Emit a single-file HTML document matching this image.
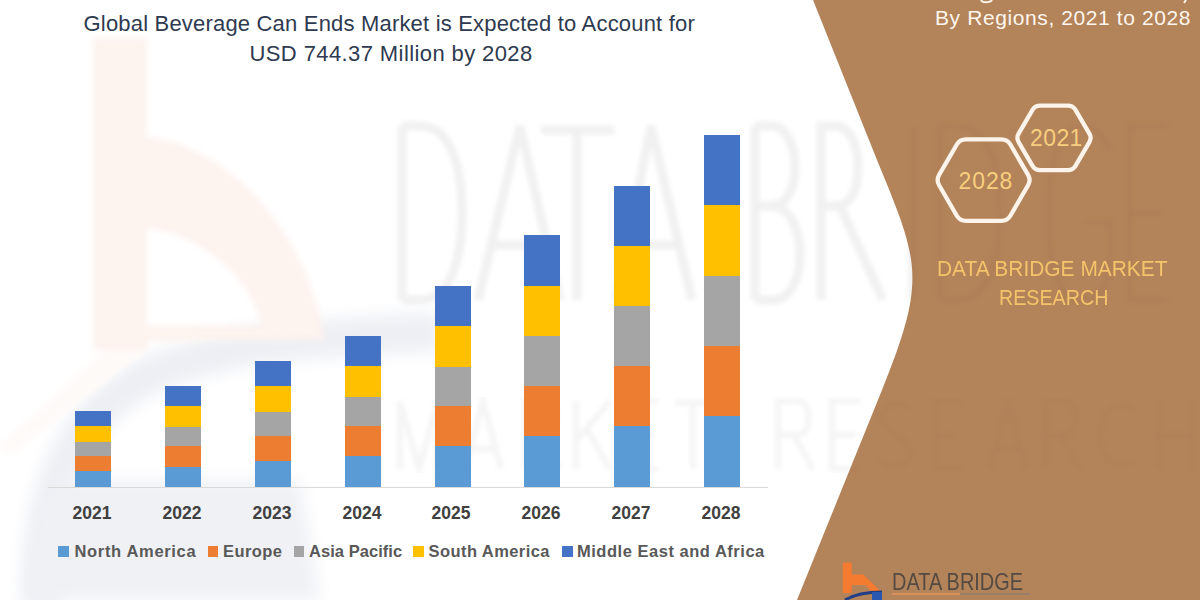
<!DOCTYPE html>
<html><head><meta charset="utf-8">
<style>
html,body{margin:0;padding:0;}
body{width:1200px;height:600px;position:relative;overflow:hidden;background:#fff;font-family:"Liberation Sans",sans-serif;}
.abs{position:absolute;}
.tt{font-size:22px;line-height:29px;color:#2e3a4f;white-space:nowrap;}
.bar{position:absolute;width:36px;}
.yr{position:absolute;width:60px;text-align:center;font-weight:bold;font-size:17.5px;color:#404040;top:503px;line-height:20px;}
.lt{position:absolute;top:541px;font-weight:bold;font-size:16.5px;color:#595959;white-space:nowrap;line-height:20px;}
.sq{position:absolute;top:546px;width:10.8px;height:10.5px;}
</style></head>
<body>
<!-- watermarks -->
<svg class="abs" style="left:0;top:0" width="1200" height="600">
  <defs><filter id="bl" x="-20%" y="-20%" width="140%" height="140%"><feGaussianBlur stdDeviation="3"/></filter>
  <filter id="bl2" x="-20%" y="-20%" width="140%" height="140%"><feGaussianBlur stdDeviation="8"/></filter></defs>
  <path d="M42,610 C36,500 70,420 140,380 C210,345 300,338 440,332" fill="none" stroke="#edeff4" stroke-width="38" filter="url(#bl2)"/>
  <path d="M30,600 C30,540 40,500 60,480 L300,480 L320,600 Z" fill="#f0f1f5" filter="url(#bl2)"/>
  <g filter="url(#bl)" fill="#fdf3ef">
  <path fill-rule="evenodd" d="M93,38 L147,38 L147,137 C200,140 300,200 325,340 L147,341 L147,350 L93,350 Z M147,228 C190,232 250,270 262,326 L147,326 Z"/>
  <path d="M105,350 L147,350 L15,452 L0,452 L0,445 Z" fill="#fefaf8"/>
  </g>
  <defs><filter id="bl1" x="-5%" y="-5%" width="110%" height="110%"><feGaussianBlur stdDeviation="2"/></filter>
  <clipPath id="brownclip"><path d="M813,0 L869,140 C917,260 930.6,270 882,390 L797,600 L1200,600 L1200,0 Z"/></clipPath></defs>
  <path d="M402,126 L402,300 M402,126 L420,126 C454,126 462,175 462,213 C462,251 454,300 420,300 L402,300 M478,300 L520,126 L560,300 M490,245 L550,245 M541,130 L614,130 M577,130 L577,300 M616,300 L651,126 L692,300 M626,245 L682,245 M755,126 L755,300 M755,126 L772,126 C788,126 795,150 795,166 C795,192 785,206 770,206 L755,206 M770,206 C790,206 800,230 800,254 C800,280 790,300 772,300 L755,300 M821,300 L821,126 L835,126 C852,126 858,150 858,166 C858,192 850,206 835,206 L821,206 M840,206 L883,300 M913,126 L913,300 M940,126 L940,300 M940,126 L958,126 C992,126 1000,175 1000,213 C1000,251 992,300 958,300 L940,300 M1110,150 C1102,132 1092,126 1079,126 C1058,126 1048,170 1048,213 C1048,258 1058,300 1079,300 C1098,300 1110,288 1110,260 L1110,222 L1085,222 M1168,126 L1130,126 L1130,300 L1168,300 M1130,213 L1162,213" fill="none" stroke="#f1f1f1" stroke-width="9" filter="url(#bl1)"/>
  <path d="M400,469 L400,401 L419.0,469 L438,401 L438,469 M465,469 L483.0,401 L501,469 M472.2,449 L493.8,449 M525,469 L525,401 L544.25,401 C560,401 560,435 544.25,435 L525,435 M540.75,435 L560,469 M576,401 L576,469 M610,401 L576,441 M587.9,431 L610,469 M658,401 L630,401 L630,469 L658,469 M630,435 L653.8,435 M675,403 L711,403 M693.0,403 L693.0,469 M778,469 L778,401 L797.25,401 C813,401 813,435 797.25,435 L778,435 M793.75,435 L813,469 M860,401 L832,401 L832,469 L860,469 M832,435 L855.8,435 M910,409 C906,401 884,401 882,415 C880,435 910,435 910,453 C910,469 884,469 880,461 M963,401 L935,401 L935,469 L963,469 M935,435 L958.8,435 M990,469 L1008.0,401 L1026,469 M997.2,449 L1018.8,449 M1045,469 L1045,401 L1064.25,401 C1080,401 1080,435 1064.25,435 L1045,435 M1060.75,435 L1080,469 M1134,411 C1129,401 1100,401 1100,435 C1100,469 1129,469 1134,459 M1158,401 L1158,469 M1192,401 L1192,469 M1158,435 L1192,435 " fill="none" stroke="#f5f5f5" stroke-width="6" filter="url(#bl1)"/>
</svg>

<div class="abs tt" id="t1" style="left:83.5px;top:9px;letter-spacing:0.19px">Global Beverage Can Ends Market is Expected to Account for</div>
<div class="abs tt" id="t2" style="left:249.5px;top:39px;letter-spacing:0.4px">USD 744.37 Million by 2028</div>

<div id="bars">
<div class="bar" style="left:75px;top:411px;height:15px;background:#4472c4"></div>
<div class="bar" style="left:75px;top:426px;height:16px;background:#ffc000"></div>
<div class="bar" style="left:75px;top:442px;height:14px;background:#a5a5a5"></div>
<div class="bar" style="left:75px;top:456px;height:15px;background:#ed7d31"></div>
<div class="bar" style="left:75px;top:471px;height:16px;background:#5b9bd5"></div>
<div class="bar" style="left:165px;top:386px;height:20px;background:#4472c4"></div>
<div class="bar" style="left:165px;top:406px;height:21px;background:#ffc000"></div>
<div class="bar" style="left:165px;top:427px;height:19px;background:#a5a5a5"></div>
<div class="bar" style="left:165px;top:446px;height:21px;background:#ed7d31"></div>
<div class="bar" style="left:165px;top:467px;height:20px;background:#5b9bd5"></div>
<div class="bar" style="left:255px;top:361px;height:25px;background:#4472c4"></div>
<div class="bar" style="left:255px;top:386px;height:26px;background:#ffc000"></div>
<div class="bar" style="left:255px;top:412px;height:24px;background:#a5a5a5"></div>
<div class="bar" style="left:255px;top:436px;height:25px;background:#ed7d31"></div>
<div class="bar" style="left:255px;top:461px;height:26px;background:#5b9bd5"></div>
<div class="bar" style="left:345px;top:336px;height:30px;background:#4472c4"></div>
<div class="bar" style="left:345px;top:366px;height:31px;background:#ffc000"></div>
<div class="bar" style="left:345px;top:397px;height:29px;background:#a5a5a5"></div>
<div class="bar" style="left:345px;top:426px;height:30px;background:#ed7d31"></div>
<div class="bar" style="left:345px;top:456px;height:31px;background:#5b9bd5"></div>
<div class="bar" style="left:434.5px;top:286px;height:40px;background:#4472c4"></div>
<div class="bar" style="left:434.5px;top:326px;height:41px;background:#ffc000"></div>
<div class="bar" style="left:434.5px;top:367px;height:39px;background:#a5a5a5"></div>
<div class="bar" style="left:434.5px;top:406px;height:40px;background:#ed7d31"></div>
<div class="bar" style="left:434.5px;top:446px;height:41px;background:#5b9bd5"></div>
<div class="bar" style="left:524px;top:235px;height:50.5px;background:#4472c4"></div>
<div class="bar" style="left:524px;top:285.5px;height:50.5px;background:#ffc000"></div>
<div class="bar" style="left:524px;top:336px;height:49.5px;background:#a5a5a5"></div>
<div class="bar" style="left:524px;top:385.5px;height:50.0px;background:#ed7d31"></div>
<div class="bar" style="left:524px;top:435.5px;height:51.5px;background:#5b9bd5"></div>
<div class="bar" style="left:614px;top:185.5px;height:60.0px;background:#4472c4"></div>
<div class="bar" style="left:614px;top:245.5px;height:60.5px;background:#ffc000"></div>
<div class="bar" style="left:614px;top:306px;height:60px;background:#a5a5a5"></div>
<div class="bar" style="left:614px;top:366px;height:60px;background:#ed7d31"></div>
<div class="bar" style="left:614px;top:426px;height:61px;background:#5b9bd5"></div>
<div class="bar" style="left:704px;top:135px;height:70px;background:#4472c4"></div>
<div class="bar" style="left:704px;top:205px;height:71px;background:#ffc000"></div>
<div class="bar" style="left:704px;top:276px;height:70px;background:#a5a5a5"></div>
<div class="bar" style="left:704px;top:346px;height:70px;background:#ed7d31"></div>
<div class="bar" style="left:704px;top:416px;height:71px;background:#5b9bd5"></div>
</div>
<div class="abs" style="left:48px;top:487px;width:720px;height:1px;background:#d9d9d9"></div>

<div class="yr" style="left:62px">2021</div>
<div class="yr" style="left:152px">2022</div>
<div class="yr" style="left:242px">2023</div>
<div class="yr" style="left:332px">2024</div>
<div class="yr" style="left:421px">2025</div>
<div class="yr" style="left:511px">2026</div>
<div class="yr" style="left:601px">2027</div>
<div class="yr" style="left:691px">2028</div>

<div class="sq" style="left:58px;background:#5b9bd5"></div><div class="lt" id="l1" style="left:74.5px;letter-spacing:0.67px">North America</div>
<div class="sq" style="left:207.6px;background:#ed7d31"></div><div class="lt" id="l2" style="left:223px;letter-spacing:0.4px">Europe</div>
<div class="sq" style="left:293.6px;background:#a5a5a5"></div><div class="lt" id="l3" style="left:309px;letter-spacing:0.05px">Asia Pacific</div>
<div class="sq" style="left:413px;background:#ffc000"></div><div class="lt" id="l4" style="left:428.5px;letter-spacing:0.43px">South America</div>
<div class="sq" style="left:562px;background:#4472c4"></div><div class="lt" id="l5" style="left:577px;letter-spacing:0.52px">Middle East and Africa</div>

<svg class="abs" style="left:0;top:0" width="1200" height="600">
  <path d="M813,0 L869,140 C917,260 930.6,270 882,390 L797,600 L1200,600 L1200,0 Z" fill="#b38359"/>
  <path d="M402,126 L402,300 M402,126 L420,126 C454,126 462,175 462,213 C462,251 454,300 420,300 L402,300 M478,300 L520,126 L560,300 M490,245 L550,245 M541,130 L614,130 M577,130 L577,300 M616,300 L651,126 L692,300 M626,245 L682,245 M755,126 L755,300 M755,126 L772,126 C788,126 795,150 795,166 C795,192 785,206 770,206 L755,206 M770,206 C790,206 800,230 800,254 C800,280 790,300 772,300 L755,300 M821,300 L821,126 L835,126 C852,126 858,150 858,166 C858,192 850,206 835,206 L821,206 M840,206 L883,300 M913,126 L913,300 M940,126 L940,300 M940,126 L958,126 C992,126 1000,175 1000,213 C1000,251 992,300 958,300 L940,300 M1110,150 C1102,132 1092,126 1079,126 C1058,126 1048,170 1048,213 C1048,258 1058,300 1079,300 C1098,300 1110,288 1110,260 L1110,222 L1085,222 M1168,126 L1130,126 L1130,300 L1168,300 M1130,213 L1162,213" fill="none" stroke="rgba(0,0,0,0.02)" stroke-width="7" filter="url(#bl1)" clip-path="url(#brownclip)"/>
  <path d="M400,469 L400,401 L419.0,469 L438,401 L438,469 M465,469 L483.0,401 L501,469 M472.2,449 L493.8,449 M525,469 L525,401 L544.25,401 C560,401 560,435 544.25,435 L525,435 M540.75,435 L560,469 M576,401 L576,469 M610,401 L576,441 M587.9,431 L610,469 M658,401 L630,401 L630,469 L658,469 M630,435 L653.8,435 M675,403 L711,403 M693.0,403 L693.0,469 M778,469 L778,401 L797.25,401 C813,401 813,435 797.25,435 L778,435 M793.75,435 L813,469 M860,401 L832,401 L832,469 L860,469 M832,435 L855.8,435 M910,409 C906,401 884,401 882,415 C880,435 910,435 910,453 C910,469 884,469 880,461 M963,401 L935,401 L935,469 L963,469 M935,435 L958.8,435 M990,469 L1008.0,401 L1026,469 M997.2,449 L1018.8,449 M1045,469 L1045,401 L1064.25,401 C1080,401 1080,435 1064.25,435 L1045,435 M1060.75,435 L1080,469 M1134,411 C1129,401 1100,401 1100,435 C1100,469 1129,469 1134,459 M1158,401 L1158,469 M1192,401 L1192,469 M1158,435 L1192,435 " fill="none" stroke="rgba(0,0,0,0.016)" stroke-width="6" filter="url(#bl1)" clip-path="url(#brownclip)"/>
  <g fill="none" stroke="#fcf3ea" stroke-width="4.3">
    <path d="M1089.37,133.54 Q1091.90,137.85 1089.37,142.16 L1075.48,165.79 Q1072.95,170.10 1067.95,170.10 L1040.05,170.10 Q1035.05,170.10 1032.52,165.79 L1018.63,142.16 Q1016.10,137.85 1018.63,133.54 L1032.52,109.91 Q1035.05,105.60 1040.05,105.60 L1067.95,105.60 Q1072.95,105.60 1075.48,109.91 Z"/>
    <path d="M1028.08,174.91 Q1031.10,180.10 1028.08,185.29 L1010.37,215.71 Q1007.35,220.90 1001.35,220.90 L965.85,220.90 Q959.85,220.90 956.83,215.71 L939.12,185.29 Q936.10,180.10 939.12,174.91 L956.83,144.49 Q959.85,139.30 965.85,139.30 L1001.35,139.30 Q1007.35,139.30 1010.37,144.49 Z"/>
  </g>

  <path d="M842.75,562.5 L851.75,562.5 L851.75,574.5 L863,574.5 L880,590.5 L880,593 L872,593 L866,585 L851.75,585 L851.75,593 L842.75,593 Z" fill="#f47b30"/>
  <path d="M845,600 C855,594 866,592 882,592" fill="none" stroke="#223f86" stroke-width="3"/>
  <rect x="872" y="592" width="10" height="8" fill="#2a57b0"/>
  <rect x="892" y="593" width="68" height="2" fill="#d9905a"/>
  <rect x="960" y="593" width="70" height="2" fill="#9a7e6a"/>
  <path d="M981,0 C982,3 990,3 992,0" fill="none" stroke="#fdf3ea" stroke-width="2"/>
  <path d="M1186,0 L1184,3" fill="none" stroke="#fdf3ea" stroke-width="2"/>
</svg>
<div class="abs" id="sub" style="left:935px;top:5px;font-size:21px;line-height:26px;color:#fff6ee;white-space:nowrap;letter-spacing:0.6px">By Regions, 2021 to 2028</div>
<div class="abs" id="h21" style="left:1030px;top:125px;font-size:23px;line-height:27px;color:#f7cf7e;letter-spacing:0.4px">2021</div>
<div class="abs" id="h28" style="left:958.5px;top:167.5px;font-size:23px;line-height:27px;color:#f7cf7e;letter-spacing:0.9px">2028</div>
<div class="abs" id="dbmr1" style="left:937px;top:254px;font-size:22px;line-height:29px;color:#f4c46a;white-space:nowrap;transform:scaleX(0.951);transform-origin:0 0">DATA BRIDGE MARKET</div>
<div class="abs" id="dbmr2" style="left:999px;top:283px;font-size:22px;line-height:29px;color:#f4c46a;white-space:nowrap;transform:scaleX(0.895);transform-origin:0 0">RESEARCH</div>

<div class="abs" id="dbl" style="left:892px;top:568px;font-size:24px;line-height:28px;color:#554a42;white-space:nowrap;transform:scaleX(0.83);transform-origin:0 0">DATA BRIDGE</div>

</body></html>
